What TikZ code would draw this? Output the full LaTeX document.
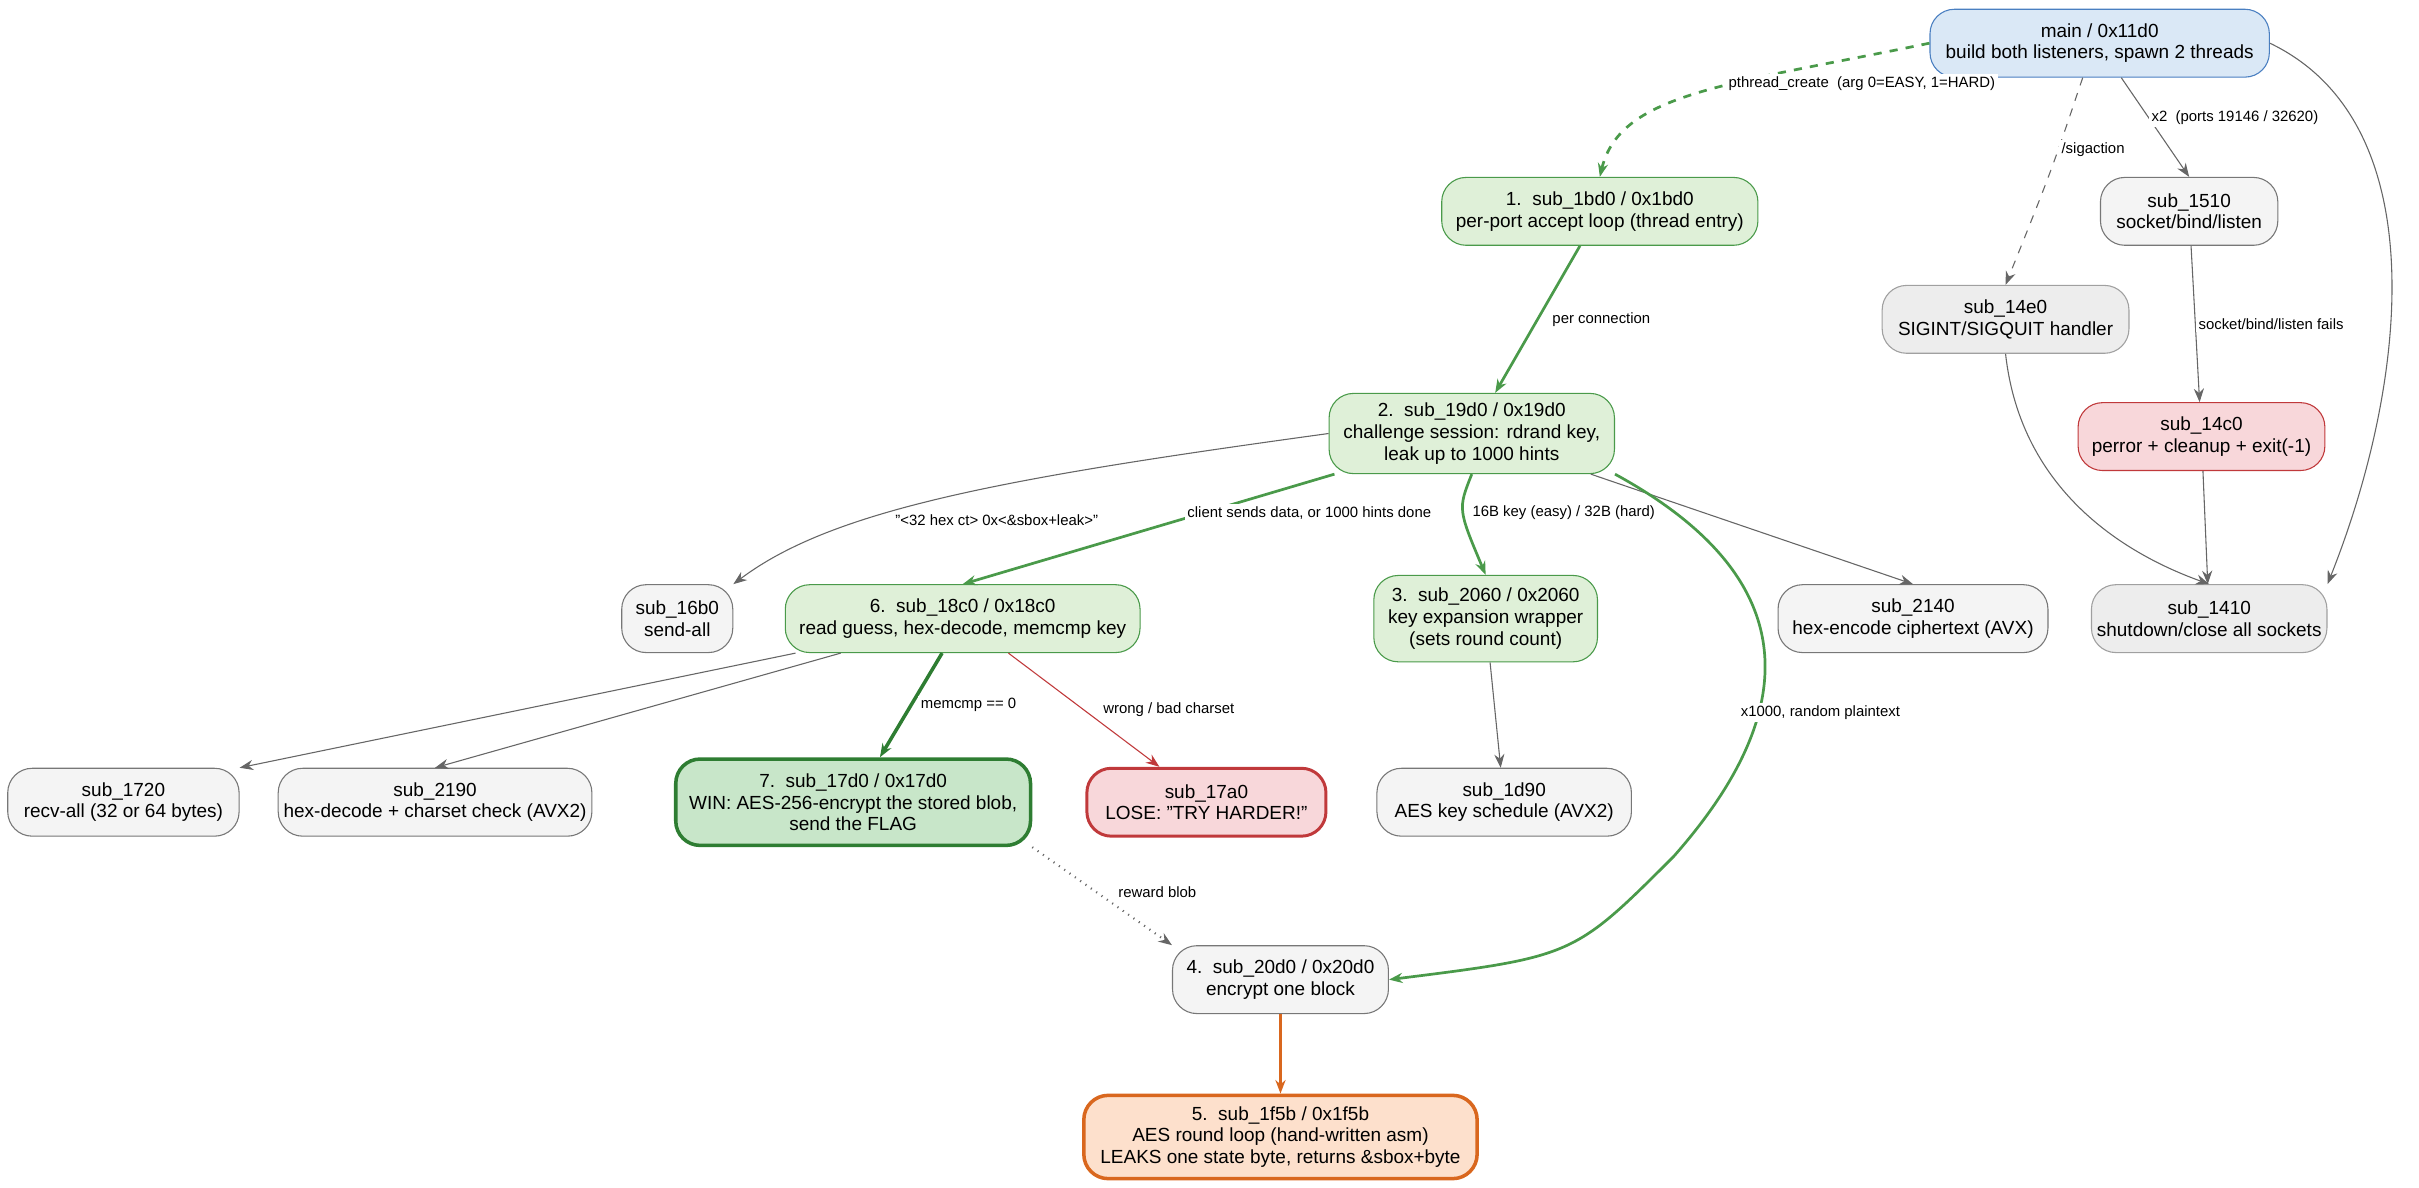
\documentclass[tikz,border=0pt]{standalone}
\usepackage{fontspec}
\setmainfont{Liberation Sans}
\usetikzlibrary{arrows.meta,positioning}
\definecolor{bluefill}{HTML}{DAE8F6}\definecolor{blueline}{HTML}{4A7FC1}
\definecolor{grnfill}{HTML}{DFF0D8}\definecolor{grnline}{HTML}{4A9A4A}
\definecolor{winfill}{HTML}{C8E6C9}\definecolor{winline}{HTML}{2E7D32}
\definecolor{redfill}{HTML}{F8D7DA}\definecolor{redline}{HTML}{C0393B}
\definecolor{orgfill}{HTML}{FDE0CC}\definecolor{orgline}{HTML}{D9671E}
\definecolor{gryfill}{HTML}{F4F4F4}\definecolor{gryline}{HTML}{777777}
\definecolor{edgegry}{HTML}{666666}
\tikzset{
  box/.style={rectangle,rounded corners=9pt,align=center,draw=gryline,fill=gryfill,
    font=\fontsize{7}{8}\selectfont,inner sep=2pt,minimum height=0.88cm},
  mainbox/.style={box,draw=blueline,fill=bluefill},
  stepbox/.style={box,draw=grnline,fill=grnfill},
  winbox/.style={box,draw=winline,fill=winfill,line width=1.3pt},
  losebox/.style={box,draw=redline,fill=redfill,line width=1.1pt},
  errbox/.style={box,draw=redline,fill=redfill},
  leakbox/.style={box,draw=orgline,fill=orgfill,line width=1.3pt},
  cleanbox/.style={box,draw=gryline!70,fill=black!7},
  flow/.style={-{Stealth[length=5pt]},draw=edgegry,thin},
  hot/.style={flow,draw=grnline,line width=1pt},
  lbl/.style={font=\fontsize{5.5}{6}\selectfont,fill=white,inner sep=1pt}
}
\begin{document}
\begin{tikzpicture}[x=0.02cm,y=-0.02cm]
\useasboundingbox (0,0) rectangle (1568,770);

\node[mainbox,minimum width=4.4cm] (main) at (1361,28) {main / 0x11d0\\build both listeners, spawn 2 threads};
\node[stepbox,minimum width=4.1cm] (s1bd0) at (1037,137) {1.\ \ sub\_1bd0 / 0x1bd0\\per-port accept loop (thread entry)};
\node[box,minimum width=2.3cm] (s1510) at (1419,137) {sub\_1510\\socket/bind/listen};
\node[cleanbox,minimum width=3.2cm] (s14e0) at (1300,207) {sub\_14e0\\SIGINT/SIGQUIT handler};
\node[errbox,minimum width=3.2cm] (s14c0) at (1427,283) {sub\_14c0\\perror + cleanup + exit(-1)};
\node[stepbox,minimum width=3.7cm,minimum height=1.04cm] (s19d0) at (954,281) {2.\ \ sub\_19d0 / 0x19d0\\challenge session: rdrand key,\\leak up to 1000 hints};
\node[box,minimum width=1.44cm] (s16b0) at (439,401) {sub\_16b0\\send-all};
\node[stepbox,minimum width=4.6cm] (s18c0) at (624,401) {6.\ \ sub\_18c0 / 0x18c0\\read guess, hex-decode, memcmp key};
\node[stepbox,minimum width=2.9cm,minimum height=1.12cm] (s2060) at (963,401) {3.\ \ sub\_2060 / 0x2060\\key expansion wrapper\\(sets round count)};
\node[box,minimum width=3.5cm] (s2140) at (1240,401) {sub\_2140\\hex-encode ciphertext (AVX)};
\node[cleanbox,minimum width=2.8cm] (s1410) at (1432,401) {sub\_1410\\shutdown/close all sockets};
\node[box,minimum width=3cm] (s1720) at (80,520) {sub\_1720\\recv-all (32 or 64 bytes)};
\node[box,minimum width=3.8cm] (s2190) at (282,520) {sub\_2190\\hex-decode + charset check (AVX2)};
\node[winbox,minimum width=4.6cm,minimum height=1.12cm] (s17d0) at (553,520) {7.\ \ sub\_17d0 / 0x17d0\\WIN: AES-256-encrypt the stored blob,\\send the FLAG};
\node[losebox,minimum width=3.1cm] (s17a0) at (782,520) {sub\_17a0\\LOSE: "TRY HARDER!"};
\node[box,minimum width=3.3cm] (s1d90) at (975,520) {sub\_1d90\\AES key schedule (AVX2)};
\node[box,minimum width=2.8cm] (s20d0) at (830,635) {4.\ \ sub\_20d0 / 0x20d0\\encrypt one block};
\node[leakbox,minimum width=5.1cm,minimum height=1.08cm] (s1f5b) at (830,737) {5.\ \ sub\_1f5b / 0x1f5b\\AES round loop (hand-written asm)\\LEAKS one state byte, returns \&sbox+byte};

% main thread
\draw[hot,dashed] (main.west) .. controls (1120,55) and (1050,60) .. (s1bd0.north) node[lbl,pos=0.45,above right=-2pt and 4pt] {pthread\_create\ \ (arg 0=EASY, 1=HARD)};
\draw[flow,dashed] (main.south-|1350,0) .. controls (1330,110) .. (s14e0.north) node[lbl,pos=0.35,right] {/sigaction};
\draw[flow] (main.south-|1375,0) -- (s1510.north) node[lbl,pos=0.4,right] {x2\ \ (ports 19146 / 32620)};
\draw[flow] (main.east) .. controls (1580,80) and (1560,250) .. (s1410.north east);
\draw[flow] (s1510) -- (s14c0) node[lbl,midway,right] {socket/bind/listen fails};
\draw[flow] (s14e0.south) .. controls (1310,320) and (1380,360) .. (s1410.north);
\draw[flow] (s14c0) -- (s1410);

% session
\draw[hot] (s1bd0) -- (s19d0) node[lbl,midway,right=4pt] {per connection};
\draw[flow] (s19d0.west) .. controls (650,310) and (540,330) .. (s16b0.north east) node[lbl,pos=0.6,below right] {"<32 hex ct> 0x<\&sbox+leak>"};
\draw[hot] (s19d0) -- (s18c0.north) node[lbl,pos=0.45,above right=0pt and 6pt] {client sends data, or 1000 hints done};
\draw[hot] (s19d0.south) .. controls (945,330) .. (s2060.north) node[lbl,pos=0.5,right=2pt] {16B key (easy) / 32B (hard)};
\draw[flow] (s19d0) -- (s2140.north);
\draw[hot] (s19d0.south east) .. controls (1180,380) and (1160,470) .. (1085,555) .. controls (1020,620) .. (s20d0.east);
\node[lbl] (lx1000) at (1180,462) {x1000, random plaintext};

% guess check
\draw[flow] (s18c0) -- (s1720.north east);
\draw[flow] (s18c0) -- (s2190.north);
\draw[hot,draw=winline,line width=1.3pt] (s18c0) -- (s17d0) node[lbl,midway,right=2pt] {memcmp == 0};
\draw[flow,draw=redline] (s18c0) -- (s17a0) node[lbl,midway,right=6pt] {wrong / bad charset};
\draw[flow] (s2060) -- (s1d90);
\draw[flow,dotted,thick] (s17d0.south east) -- (s20d0.north west) node[lbl,pos=0.55,above right=0pt and 2pt] {reward blob};
\draw[flow,draw=orgline,line width=1pt] (s20d0) -- (s1f5b);
\end{tikzpicture}
\end{document}
